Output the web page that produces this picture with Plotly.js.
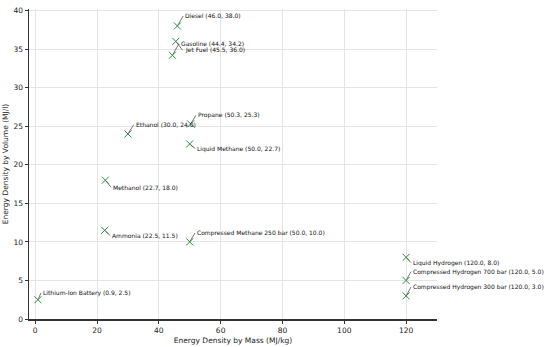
<!DOCTYPE html>
<html>
<head>
<meta charset="utf-8">
<script src="https://cdn.plot.ly/plotly-3.0.1.min.js"></script>
<style>html,body{margin:0;padding:0;background:#fff;}#chart{width:550px;height:347px;}</style>
</head>
<body>
<div id="chart"></div>
<script>
const names = ["Diesel","Gasoline","Jet Fuel","Propane","Ethanol","Liquid Methane","Methanol","Ammonia","Compressed Methane 250 bar","Lithium-Ion Battery","Liquid Hydrogen","Compressed Hydrogen 700 bar","Compressed Hydrogen 300 bar"];
const massDensity = [46.0, 44.4, 45.5, 50.3, 30.0, 50.0, 22.7, 22.5, 50.0, 0.9, 120.0, 120.0, 120.0];
const volumeDensity = [38.0, 34.2, 36.0, 25.3, 24.0, 22.7, 18.0, 11.5, 10.0, 2.5, 8.0, 5.0, 3.0];
// label text anchor positions (data coords)
const labelX = [47.9, 46.5, 47.7, 52.0, 31.9, 51.8, 24.5, 24.3, 51.7, 1.9, 121.6, 121.6, 121.6];
const labelY = [39.3, 35.7, 34.85, 26.4, 25.2, 22.1, 17.1, 10.8, 11.15, 3.4, 7.3, 6.15, 4.15];
const xTicks = [0, 20, 40, 60, 80, 100, 120];
const yTicks = [0, 5, 10, 15, 20, 25, 30, 35, 40];

const font = 'DejaVu Sans, sans-serif';
const annotations = names.map((n, i) => ({
  x: massDensity[i], y: volumeDensity[i], xref: 'x', yref: 'y',
  ax: labelX[i], ay: labelY[i], axref: 'x', ayref: 'y',
  text: n + ' (' + massDensity[i].toFixed(1) + ', ' + volumeDensity[i].toFixed(1) + ')',
  xanchor: 'left', yanchor: 'middle',
  showarrow: true, arrowhead: 0, arrowwidth: 0.8, arrowcolor: '#555',
  standoff: 1, startstandoff: 0,
  font: {family: font, size: 6, color: '#111'}
}));

const trace = {
  x: massDensity, y: volumeDensity, mode: 'markers', type: 'scatter',
  marker: {symbol: 'x-thin', size: 7, color: '#2f8a48', line: {width: 1, color: '#2f8a48'}},
  hoverinfo: 'skip', showlegend: false
};

const layout = {
  width: 550, height: 347,
  margin: {l: 29, r: 113, t: 9, b: 28},
  paper_bgcolor: '#fff', plot_bgcolor: '#fff',
  font: {family: font, color: '#222'},
  xaxis: {
    range: [-2, 130], tickvals: xTicks, ticktext: xTicks.map(String),
    showgrid: true, gridcolor: '#e4e4e4', gridwidth: 1, zeroline: false,
    showline: true, linecolor: '#333', linewidth: 1.5,
    ticks: 'outside', ticklen: 3, tickcolor: '#333', tickwidth: 1,
    tickfont: {family: font, size: 7.5, color: '#222'},
    title: {text: 'Energy Density by Mass (MJ/kg)', font: {family: font, size: 7.5, color: '#222'}, standoff: 4}
  },
  yaxis: {
    range: [0, 40.2], tickvals: yTicks, ticktext: yTicks.map(String),
    showgrid: true, gridcolor: '#e4e4e4', gridwidth: 1, zeroline: false,
    showline: true, linecolor: '#333', linewidth: 1.5,
    ticks: 'outside', ticklen: 3, tickcolor: '#333', tickwidth: 1,
    tickfont: {family: font, size: 7.5, color: '#222'},
    title: {text: 'Energy Density by Volume (MJ/l)', font: {family: font, size: 7.5, color: '#222'}, standoff: 4}
  },
  annotations: annotations
};

Plotly.newPlot('chart', [trace], layout, {displayModeBar: false, staticPlot: true});
</script>
</body>
</html>
